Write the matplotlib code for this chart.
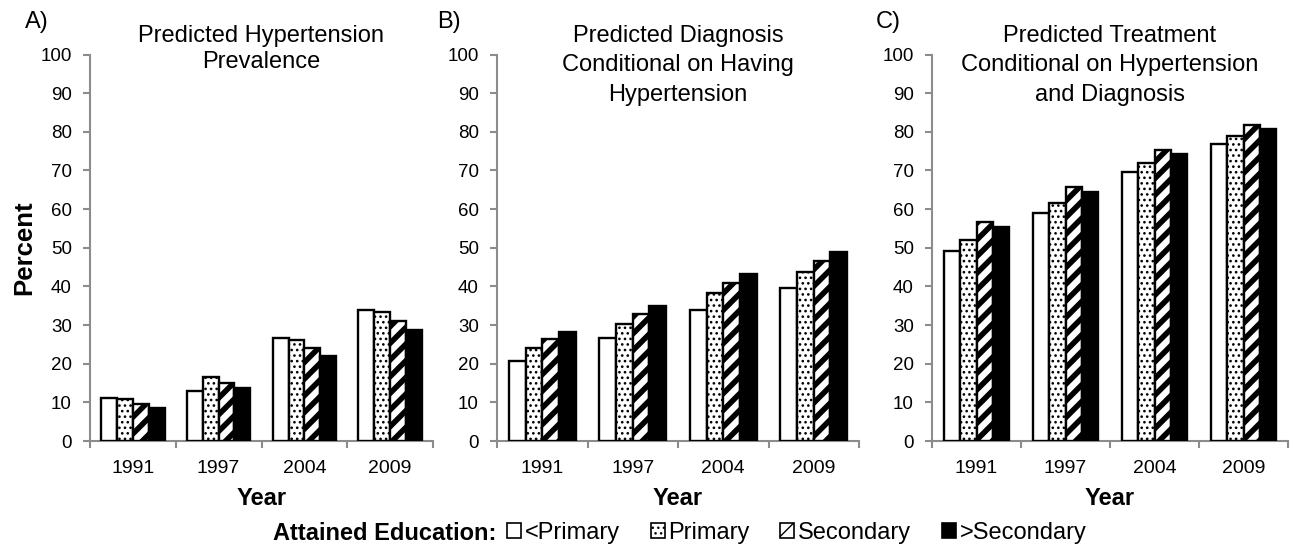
import numpy as np
import matplotlib.pyplot as plt
from matplotlib.patches import Patch

plt.rcParams['font.family'] = ['Liberation Sans', 'DejaVu Sans']

years = ['1991', '1997', '2004', '2009']
education = ['<Primary', 'Primary', 'Secondary', '>Secondary']

# rows = education level, columns = survey year
prevalence = [
    [11.1, 12.9, 26.6, 33.8],
    [10.8, 16.6, 26.1, 33.3],
    [9.6, 15.0, 24.0, 31.0],
    [8.5, 13.7, 22.1, 28.8],
]
diagnosis = [
    [20.7, 26.7, 34.0, 39.7],
    [24.1, 30.2, 38.2, 43.8],
    [26.3, 32.8, 40.8, 46.6],
    [28.2, 35.0, 43.2, 49.0],
]
treatment = [
    [49.1, 59.0, 69.5, 76.9],
    [52.0, 61.5, 71.8, 78.8],
    [56.6, 65.8, 75.4, 81.8],
    [55.3, 64.3, 74.2, 80.8],
]

panels = [
    ('A)', 'Predicted Hypertension\nPrevalence', prevalence),
    ('B)', 'Predicted Diagnosis\nConditional on Having\nHypertension', diagnosis),
    ('C)', 'Predicted Treatment\nConditional on Hypertension\nand Diagnosis', treatment),
]

# bar looks: fill colour, hatch, hatch line width
looks = [('white', '', 1.0), ('white', '...', 1.1), ('white', '//', 4.0), ('black', '', 1.0)]

W, H = 1294, 547
fig = plt.figure(figsize=(W / 100, H / 100), dpi=100)
# axes boxes in pixels: left, right, panel-letter x, title line spacing
boxes = [(90, 433, 25, 1.28), (497, 859, 437, 1.45), (932, 1288, 876, 1.45)]
top_px, bot_px = 54.5, 441
grey = '#8c8c8c'
bw = 0.185

for (lab, title, data), (x0, x1, lx, lsp) in zip(panels, boxes):
    ax = fig.add_axes([x0 / W, 1 - bot_px / H, (x1 - x0) / W, (bot_px - top_px) / H])
    x = np.arange(len(years))
    for i, (fc, hatch, hlw) in enumerate(looks):
        bars = ax.bar(x + (i - 1.5) * bw, data[i], bw, facecolor=fc,
                      edgecolor='black', linewidth=1.7, hatch=hatch, zorder=3)
        for b in bars:
            if hasattr(b, 'set_hatch_linewidth'):
                b.set_hatch_linewidth(hlw)
    ax.set_xlim(-0.5, 3.5)
    ax.set_ylim(0, 100)
    ax.set_yticks(range(0, 101, 10))
    ax.set_xticks(x)
    ax.set_xticklabels(years, fontsize=14)
    ax.set_xticks(np.arange(-0.5, 3.6, 1), minor=True)
    ax.tick_params(axis='x', which='major', length=0, pad=14)
    ax.tick_params(axis='x', which='minor', length=5, color=grey, width=1.5)
    ax.tick_params(axis='y', length=5, color=grey, width=1.5, labelsize=13.5, pad=8)
    for s in ['top', 'right']:
        ax.spines[s].set_visible(False)
    for s in ['left', 'bottom']:
        ax.spines[s].set_color(grey)
        ax.spines[s].set_linewidth(1.5)
    ax.set_xlabel('Year', fontsize=17, fontweight='bold', labelpad=7)
    ax.text(0.5, 1.077, title, transform=ax.transAxes, ha='center', va='top',
            fontsize=17, linespacing=lsp)
    fig.text(lx / W, 1 - 22 / H, lab, fontsize=17, ha='left', va='center')
    if lab == 'A)':
        ax.set_ylabel('Percent', fontsize=18.5, fontweight='bold', labelpad=3)

fig.text(273 / W, 1 - 533 / H, 'Attained Education:', fontsize=17,
         fontweight='bold', ha='left', va='center')
handles = []
for fc, hatch, hlw in looks:
    p = Patch(facecolor=fc, edgecolor='black', hatch=hatch, linewidth=1.2)
    if hasattr(p, 'set_hatch_linewidth'):
        p.set_hatch_linewidth(hlw)
    handles.append(p)
fig.legend(handles, education, loc='center left', bbox_to_anchor=(507 / W, 1 - 533 / H),
           ncol=4, frameon=False, fontsize=17, handlelength=0.6, handleheight=0.6,
           handletextpad=0.15, columnspacing=1.3, borderpad=0, borderaxespad=0)

fig.savefig('out.png', dpi=100)
